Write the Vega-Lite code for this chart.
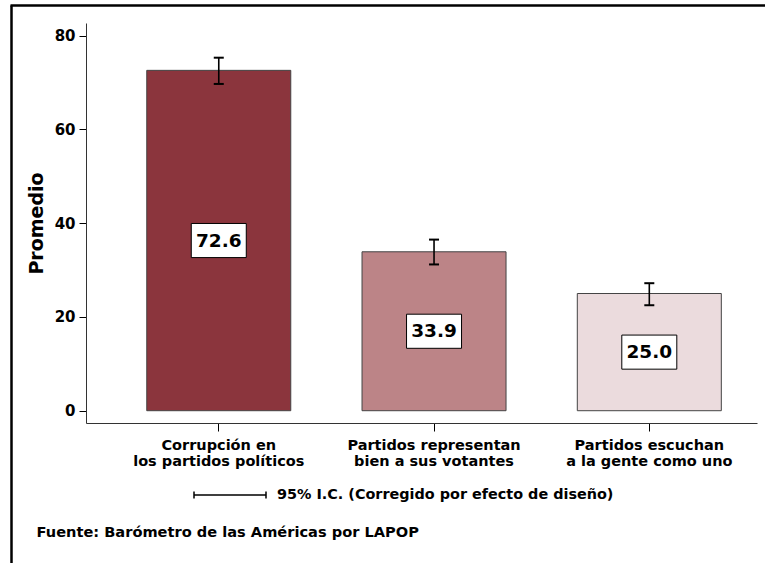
{
  "$schema": "https://vega.github.io/schema/vega-lite/v6.json",
  "width": 671,
  "height": 400,
  "autosize": {"type": "none"},
  "padding": {"left": 86, "top": 23, "right": 8, "bottom": 140},
  "background": "white",
  "config": {"view": {"stroke": null}, "font": "DejaVu Sans"},
  "datasets": {
    "bars": [
      {"item": "Corrupción en|los partidos políticos", "mean": 72.6, "lo": 69.7, "hi": 75.3},
      {"item": "Partidos representan|bien a sus votantes", "mean": 33.9, "lo": 31.2, "hi": 36.5},
      {"item": "Partidos escuchan|a la gente como uno", "mean": 25.0, "lo": 22.5, "hi": 27.2}
    ],
    "frame": [{"f": 0}]
  },
  "layer": [
    {
      "data": {"name": "bars"},
      "encoding": {
        "x": {
          "field": "item", "type": "nominal", "sort": null,
          "scale": {"paddingInner": 0.331, "paddingOuter": 0.224, "align": 0.63},
          "axis": {
            "title": "Fuente: Barómetro de las Américas por LAPOP",
            "titleFont": "DejaVu Sans", "titleFontSize": 14.6, "titleFontWeight": "bold", "titleColor": "black",
            "titleX": -50, "titleY": 109, "titleAlign": "left", "titleBaseline": "middle", "titleAnchor": "start",
            "labelExpr": "split(datum.label, '|')",
            "labelFont": "DejaVu Sans", "labelFontSize": 14.5, "labelFontWeight": "bold", "labelColor": "black",
            "labelAngle": 0, "labelLineHeight": 16, "labelPadding": 7, "labelLimit": 0,
            "tickSize": 8, "tickColor": "black", "domainColor": "#333", "grid": false
          }
        }
      },
      "layer": [
        {
          "mark": {"type": "bar", "stroke": "#444", "strokeWidth": 1},
          "encoding": {
            "y": {
              "field": "mean", "type": "quantitative", "stack": null,
              "scale": {"domain": [-2.62, 82.7], "nice": false, "zero": false},
              "axis": {
                "values": [0, 20, 40, 60, 80], "title": "Promedio",
                "titleFont": "DejaVu Sans", "titleFontSize": 19, "titleFontWeight": "bold", "titleColor": "black", "titlePadding": 8,
                "labelFont": "DejaVu Sans", "labelFontSize": 15, "labelFontWeight": "bold", "labelColor": "black", "labelPadding": 4,
                "tickSize": 7, "tickColor": "black", "domainColor": "#333", "grid": false
              }
            },
            "y2": {"datum": 0},
            "fill": {
              "field": "item", "type": "nominal", "sort": null,
              "scale": {"range": ["#8B353D", "#BC8487", "#EBDBDD"]},
              "legend": null
            }
          }
        },
        {
          "mark": {"type": "rule", "strokeWidth": 1.6},
          "encoding": {
            "y": {"field": "lo", "type": "quantitative"},
            "y2": {"field": "hi"},
            "stroke": {
              "datum": "95% I.C. (Corregido por efecto de diseño)", "type": "nominal",
              "scale": {"range": ["black"]},
              "legend": {
                "orient": "none", "legendX": 107, "legendY": 435, "title": null, "padding": 0,
                "symbolType": "M-1,-0.1L-1,0.1M-1,0L1,0M1,-0.1L1,0.1", "symbolSize": 5184,
                "symbolStrokeWidth": 1.5, "symbolFillColor": "transparent", "symbolStrokeColor": "black",
                "labelFont": "DejaVu Sans", "labelFontSize": 14.4, "labelFontWeight": "bold", "labelColor": "black",
                "labelOffset": 10, "labelLimit": 0
              }
            }
          }
        },
        {
          "mark": {"type": "tick", "size": 10, "thickness": 2, "color": "black", "opacity": 1},
          "encoding": {"y": {"field": "lo", "type": "quantitative"}}
        },
        {
          "mark": {"type": "tick", "size": 10, "thickness": 2, "color": "black", "opacity": 1},
          "encoding": {"y": {"field": "hi", "type": "quantitative"}}
        },
        {
          "transform": [{"calculate": "datum.mean / 2", "as": "mid"}],
          "layer": [
            {
              "mark": {"type": "point", "shape": "M-1,-0.62L1,-0.62L1,0.62L-1,0.62Z", "size": 3025, "filled": true, "fill": "white", "stroke": "black", "strokeWidth": 1, "opacity": 1},
              "encoding": {"y": {"field": "mid", "type": "quantitative"}}
            },
            {
              "mark": {"type": "text", "font": "DejaVu Sans", "fontSize": 18.5, "fontWeight": "bold", "color": "black", "baseline": "middle", "align": "center"},
              "encoding": {
                "y": {"field": "mid", "type": "quantitative"},
                "text": {"field": "mean", "type": "quantitative", "format": ".1f"}
              }
            }
          ]
        }
      ]
    },
    {
      "data": {"name": "frame"},
      "mark": {"type": "point", "opacity": 0},
      "encoding": {
        "x": {
          "field": "f", "type": "quantitative",
          "scale": {"domain": [0, 1], "range": [-76, 700]},
          "axis": {"orient": "top", "offset": 18, "ticks": false, "labels": false, "title": null, "grid": false, "domainColor": "black", "domainWidth": 2.5}
        },
        "y": {
          "field": "f", "type": "quantitative",
          "scale": {"domain": [0, 1], "range": [545, -18]},
          "axis": {"orient": "left", "offset": 75, "ticks": false, "labels": false, "title": null, "grid": false, "domainColor": "black", "domainWidth": 2.5}
        }
      }
    }
  ],
  "resolve": {"scale": {"x": "independent", "y": "independent"}}
}
